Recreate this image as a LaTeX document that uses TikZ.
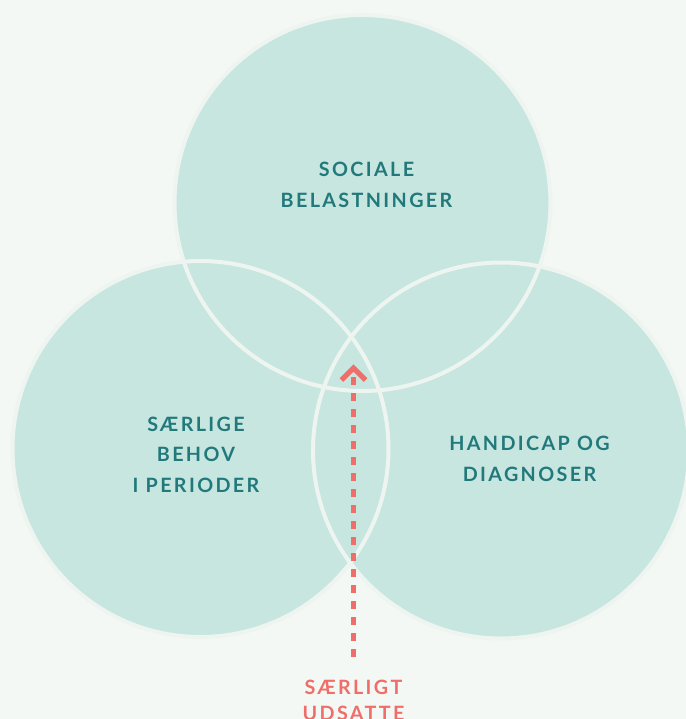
\documentclass[tikz,border=0pt]{standalone}
\usepackage{fontspec}
\usetikzlibrary{calc}
\setmainfont{Lato}[LetterSpace=12]
\definecolor{bgc}{HTML}{F4F8F5}
\definecolor{fillc}{HTML}{C7E6E0}
\definecolor{edgec}{HTML}{EEF5F1}
\definecolor{tealc}{HTML}{22797C}
\definecolor{redc}{HTML}{F06E69}
\begin{document}
\begin{tikzpicture}[x=0.75pt,y=-0.75pt,
  disc/.style={circle,fill=fillc,inner sep=0pt,minimum size=282pt},
  ring/.style={draw=edgec,line width=3pt},
  lbl/.style={text=tealc,font=\bfseries\fontsize{14.8}{22.8}\selectfont,align=center,inner sep=0pt,anchor=base},
  redlbl/.style={text=redc,font=\bfseries\fontsize{14.8}{19.5}\selectfont,align=center,inner sep=0pt,anchor=base},
  arr/.style={draw=redc,line width=3.8pt,dash pattern=on 6pt off 6pt}]
\fill[bgc] (0,0) rectangle (686,719);
\useasboundingbox (0,0) rectangle (686,719);
\node[disc] (ctop) at (362.5,203) {};
\node[disc] (cleft) at (200.5,449) {};
\node[disc] (cright) at (501,450.5) {};
\draw[ring] (ctop.center) circle[radius=141pt];
\draw[ring] (cleft.center) circle[radius=141pt];
\draw[ring] (cright.center) circle[radius=141pt];
\node[lbl] (tsoc) at (366.5,207) {SOCIALE\\BELASTNINGER};
\node[lbl] (tleft) at (196,492) {SÆRLIGE\\BEHOV\\I PERIODER};
\node[lbl] (tright) at (529.5,481) {HANDICAP OG\\DIAGNOSER};
\node[redlbl] (tred) at (353.5,720) {SÆRLIGT\\UDSATTE};
\coordinate (astart) at (353.5,657);
\coordinate (atip) at (353.5,368);
\draw[arr] (astart) -- (atip);
\draw[draw=redc,line width=3.8pt] ($(atip)+(-12,12)$) -- (atip) -- ($(atip)+(12,12)$);
\end{tikzpicture}
\end{document}
